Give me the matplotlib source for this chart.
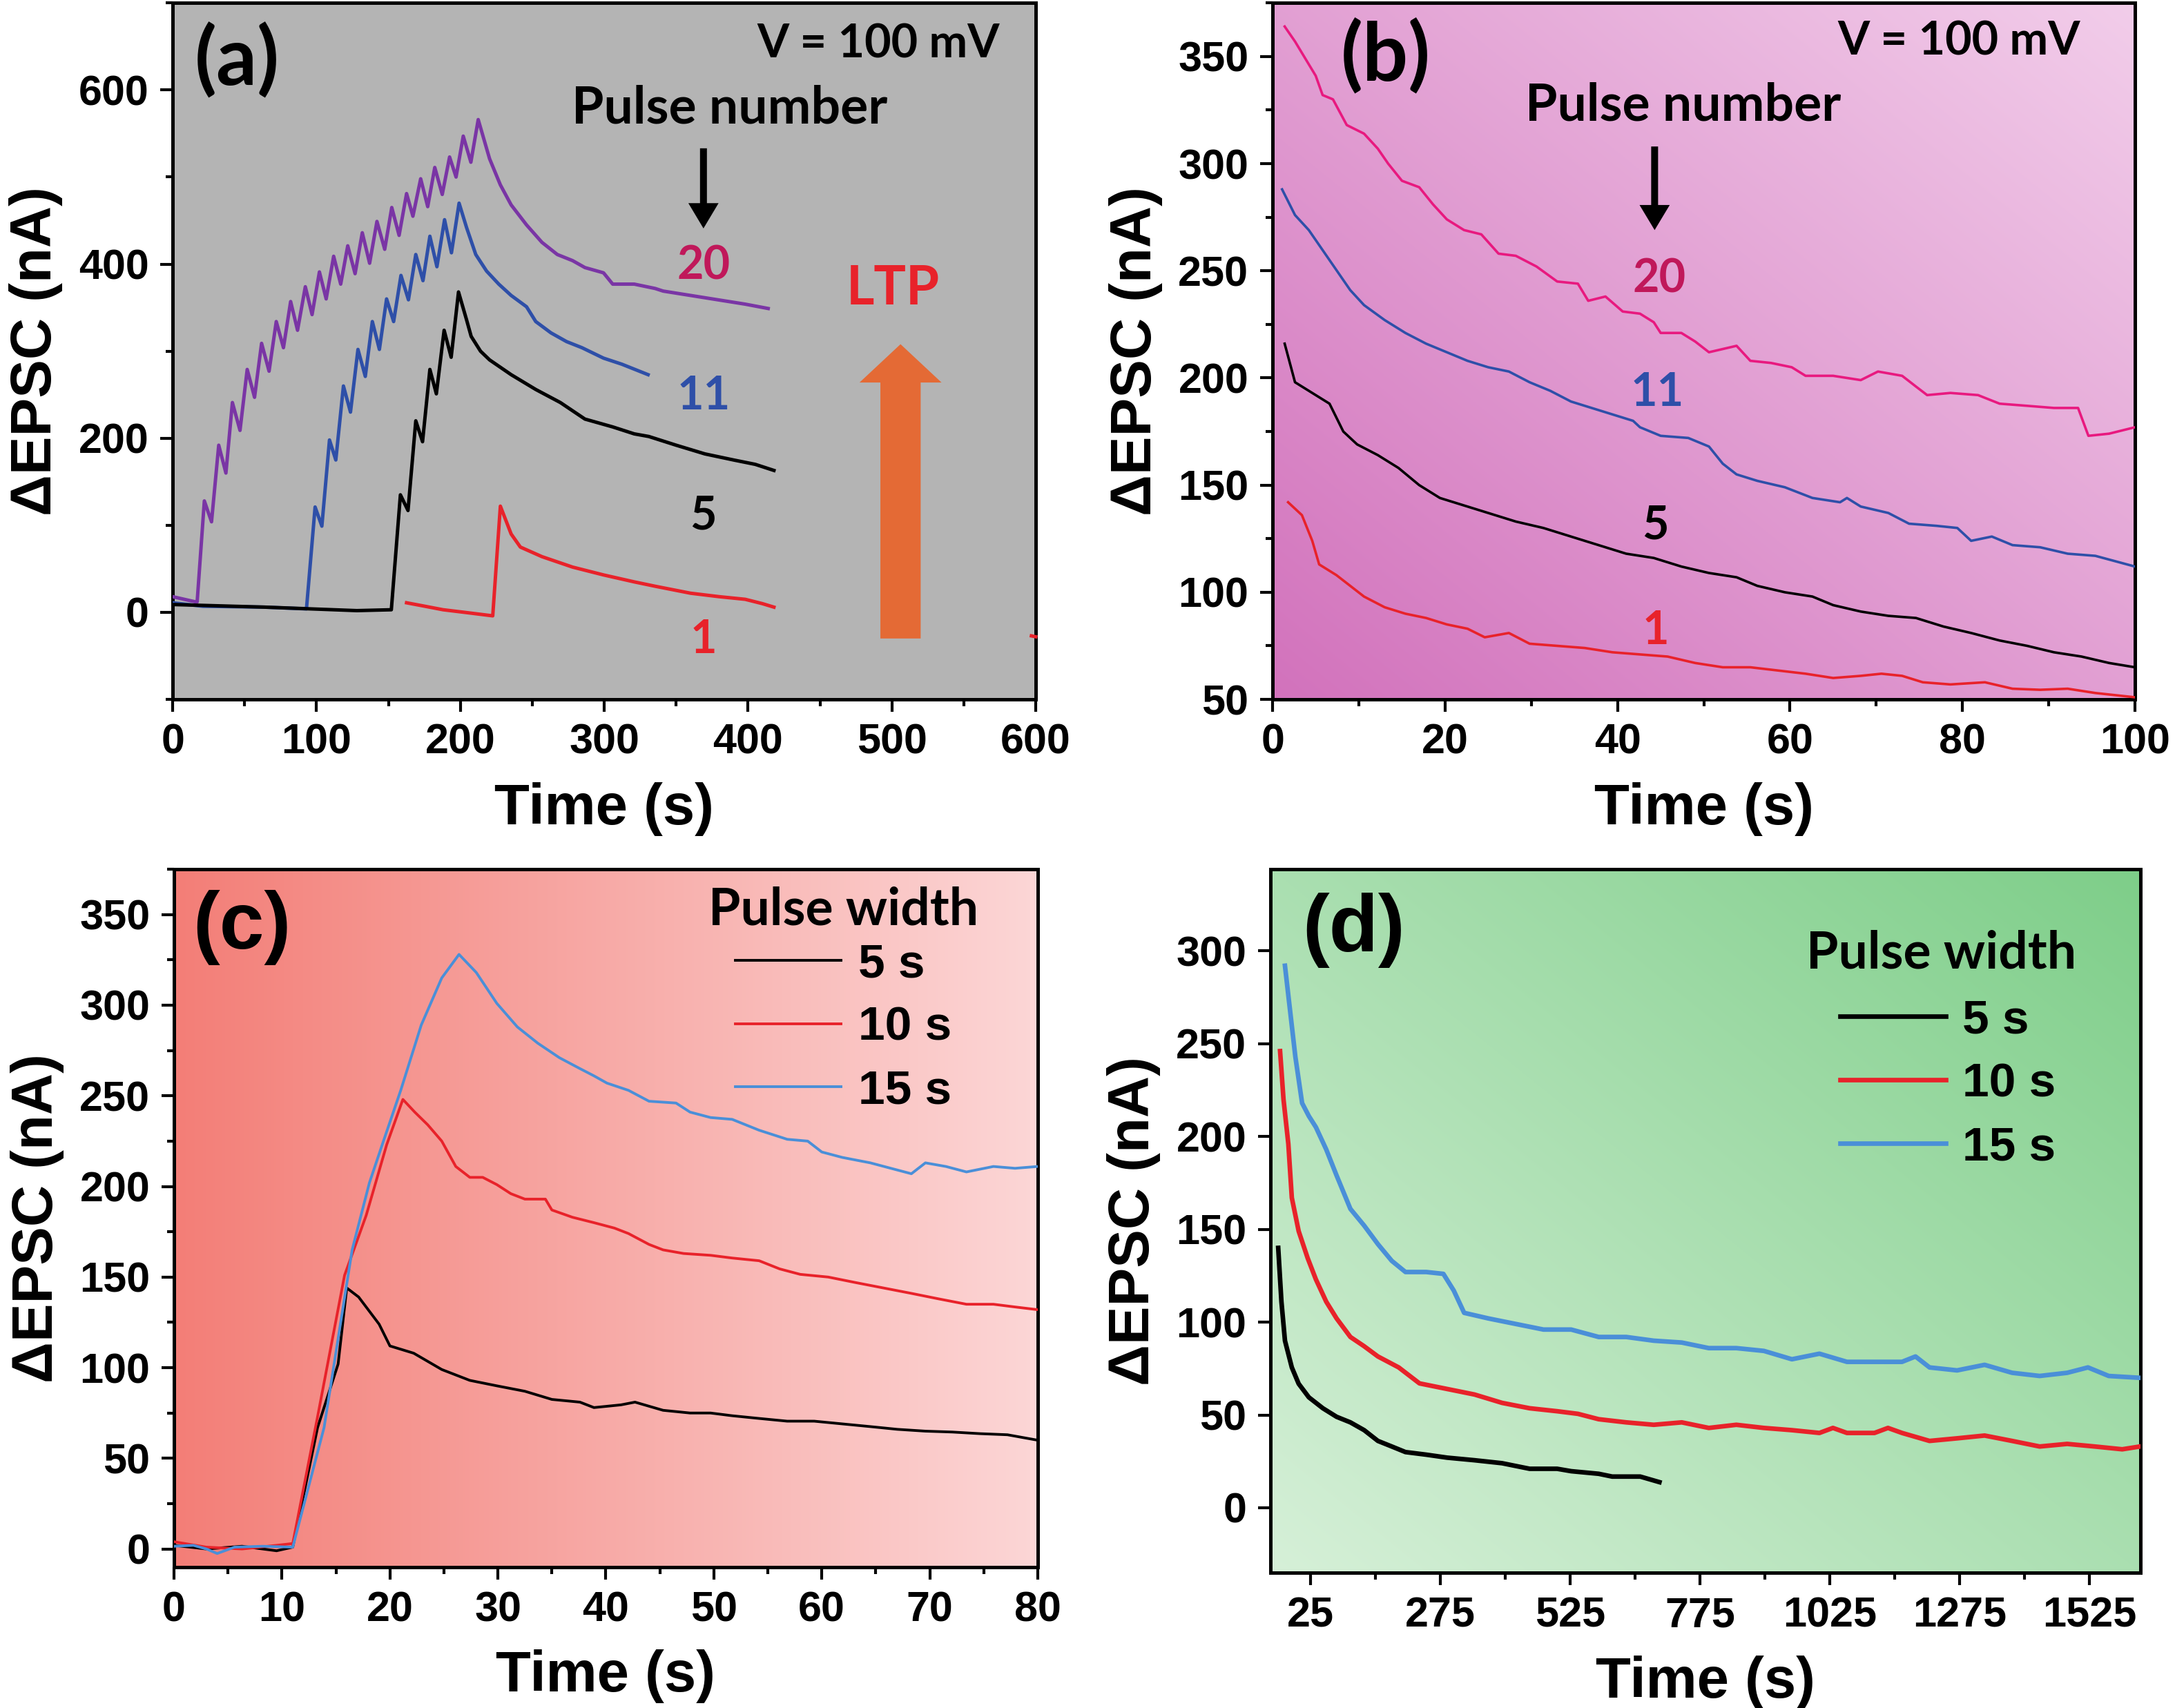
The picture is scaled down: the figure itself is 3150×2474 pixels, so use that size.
import numpy as np
import matplotlib
matplotlib.use("Agg")
import matplotlib.pyplot as plt
from matplotlib.ticker import MultipleLocator, FixedLocator
from matplotlib.colors import to_rgb

# ---------------- data: panel (a), pulse number ----------------
a20_t = [0, 16, 17, 22, 27, 32, 37, 41.5, 46.8, 51.8, 56.9, 61.8, 67, 72, 77, 82, 86.8, 92.2, 96.9,
         102, 106.7, 111.9, 116.8, 121.7, 126.8, 131.8, 136.9, 142, 147.4, 152.3, 157.4, 162.6, 167,
         172.4, 177.3, 182.2, 187.4, 192.5, 197, 202, 207.3, 212.4, 220.3, 227.8, 235.3, 246, 256.7,
         267.4, 278, 286.6, 299.5, 305.9, 320.9, 335.4, 341, 360, 379, 398, 414]
a20_v = [18, 12, 12, 128, 104, 192, 160, 241, 209, 279, 247, 309, 277, 334, 304, 357, 324, 374, 342,
         391, 360, 409, 377, 421, 389, 436, 401, 449, 417, 465, 433, 481, 455, 498, 466, 511, 480, 523,
         500, 547, 517, 566, 521, 491, 468, 445, 425, 411, 404, 396, 390, 377, 377, 372, 369, 364, 359,
         354, 349]

a11_t = [0, 21, 64, 93, 99, 103.7, 109, 113.4, 118.7, 123.6, 128.8, 133.9, 138.8, 143.7, 148.7,
         153.6, 158.7, 163.9, 169, 174, 178.8, 183.7, 189, 193.8, 199.1, 204.3, 210.7, 218.2, 226.7,
         235.3, 246, 252.4, 263, 273.8, 284.5, 299.5, 312.3, 330.5]
a11_v = [11, 7, 6, 4, 121, 99, 198, 175, 260, 230, 302, 271, 334, 302, 360, 334, 387, 359, 411,
         381, 432, 397, 451, 413, 470, 442, 411, 392, 377, 364, 351, 334, 321, 311, 304, 292, 285, 273]

a5_t = [0, 64, 96, 128, 152, 158.3, 163.6, 169, 173.7, 178.8, 183.3, 188.7, 193.6, 198.7, 204.3,
        207.5, 214, 220.3, 235.3, 252.4, 269.5, 286.6, 305.9, 320.9, 331, 350, 370, 390, 405, 418]
a5_v = [9, 6, 4, 2, 3, 135, 117, 220, 196, 279, 251, 324, 293, 368, 336, 317, 300, 290, 273, 256,
        241, 222, 213, 205, 202, 192, 182, 175, 170, 163]

a1_t = [162.6, 175.4, 188, 203, 222.5, 227.8, 235.3, 241.7, 256.7, 278, 299.5, 320.9, 335.4, 360,
        380, 398, 410, 418]
a1_v = [11, 7, 3, 0, -4, 122, 90, 75, 64, 52, 43, 35, 30, 22, 18, 15, 10, 6]
a1_tail_t = [597, 600]
a1_tail_v = [-27, -28]

# ---------------- data: panel (b), decay after pulses ----------------
b20_t = [1.4, 2.6, 5, 5.8, 7, 8.6, 10.6, 12.2, 13.4, 15, 17, 18.6, 20.2, 22.2, 24.2, 26.2, 28.2,
         30.6, 33, 35.4, 36.6, 38.6, 40.6, 42.6, 44.2, 45, 47.4, 49, 50.6, 53.8, 55.4, 57.8, 60.2,
         61.8, 65, 68.2, 70.2, 73, 74.6, 75.9, 78.6, 81.8, 84.3, 87.5, 90.6, 93.4, 94.6, 97, 100]
b20_v = [364, 357, 341, 332, 330, 318, 314, 307, 300, 292, 289, 281, 274, 269, 267, 258, 257, 252,
         245, 244, 236, 238, 231, 230, 226, 221, 221, 217, 212, 215, 208, 207, 205, 201, 201, 199,
         203, 201, 196, 192, 193, 192, 188, 187, 186, 186, 173, 174, 177]

b11_t = [1.1, 2.6, 4.2, 6.6, 9, 10.6, 13, 15.4, 17.8, 20.2, 22.6, 25, 27.4, 29.8, 32.2, 34.6, 36.2,
         39.4, 41.8, 42.6, 45, 48.2, 50.6, 52.2, 53.8, 56.2, 59.4, 62.6, 65.8, 66.6, 68.2, 71.4,
         73.8, 77, 79.4, 81, 83.4, 85.8, 89, 92.2, 95.4, 100]
b11_v = [288, 276, 269, 255, 241, 234, 227, 221, 216, 212, 208, 205, 203, 198, 194, 189, 187, 183,
         180, 177, 173, 172, 168, 160, 155, 152, 149, 144, 142, 144, 140, 137, 132, 131, 130, 124,
         126, 122, 121, 118, 117, 112]

b5_t = [1.4, 2.6, 4.2, 6.6, 8.2, 9.8, 12.2, 14.6, 17, 19.4, 21.8, 25, 28.2, 31.4, 34.6, 37.8, 41,
        44.2, 47.4, 50.6, 53.8, 56.2, 59.4, 62.6, 65, 68.2, 71.4, 74.6, 77.8, 81, 84.3, 87.5, 90.6,
        93.8, 97, 100]
b5_v = [216, 198, 194, 188, 175, 169, 164, 158, 150, 144, 141, 137, 133, 130, 126, 122, 118, 116,
        112, 109, 107, 103, 100, 98, 94, 91, 89, 88, 84, 81, 77.5, 75, 72, 70, 67, 65]

b1_t = [1.8, 3.4, 4.6, 5.4, 7.4, 9, 10.6, 13, 15.4, 17.8, 20.2, 22.6, 24.6, 27.4, 29.8, 33, 36.2,
        39.4, 42.6, 45.8, 49, 52.2, 55.4, 58.6, 61.8, 65, 68.2, 70.6, 73, 75.4, 78.6, 82.6, 85.8,
        89, 92.2, 95.4, 100]
b1_v = [142, 136, 124, 113, 108, 103, 98, 93, 90, 88, 85, 83, 79, 81, 76, 75, 74, 72, 71, 70, 67,
        65, 65, 63.5, 62, 60, 61, 62, 61, 58, 57, 58, 55, 54.5, 55, 53, 51]

# ---------------- data: panel (c), pulse width ----------------
c5_t = [0, 3, 6.3, 9.5, 11, 13.3, 15.2, 16, 17.1, 19, 20, 22.2, 24.8, 27.4, 29.9, 32.5, 35, 37.6,
        38.9, 41.4, 42.7, 45.3, 47.8, 49.7, 51.7, 54.2, 56.8, 59.3, 61.9, 64.5, 67, 69.6, 72.1,
        74.7, 77.2, 80]
c5_v = [2, 0, 1.5, -1, 1, 67, 102, 144, 139, 124, 112, 108, 99, 93, 90, 87, 82.5, 81, 78, 79.5, 81,
        76.5, 75, 75, 73.5, 72, 70.5, 70.5, 69, 67.5, 66, 65, 64.5, 63.6, 63, 60]

c10_t = [0, 3, 6.3, 9.5, 11, 13.3, 15.8, 17.8, 19.7, 21.2, 22.3, 23.5, 24.8, 26.1, 27.4, 28.6,
         29.9, 31.2, 32.5, 34.4, 35, 36.9, 38.9, 40.8, 42.1, 44, 45.3, 47.2, 49.7, 51.7, 54.2,
         56.1, 58, 60.6, 63.1, 65.7, 68.3, 70.8, 73.4, 75.9, 77.9, 80]
c10_v = [4, 1, 0, 2, 3, 73, 151, 184, 223, 248, 241, 234, 225, 211, 205, 205, 201, 196, 193, 193,
         187, 183, 180, 177, 174, 168, 165, 163, 162, 160.5, 159, 154.5, 151.5, 150, 147, 144,
         141, 138, 135, 135, 133.5, 132]

c15_t = [0, 1.8, 3, 4, 5.6, 8.2, 11, 13.9, 16.5, 18.1, 19.4, 21, 22.9, 24.8, 26.4, 28, 29.9, 31.8,
         33.7, 35.7, 37.6, 38.9, 40.1, 42.1, 44, 46.5, 47.8, 49.7, 51.7, 54.2, 56.8, 58.7, 60,
         61.9, 64.5, 66.4, 68.3, 69.6, 71.5, 73.4, 75.9, 77.9, 80]
c15_v = [1.5, 2, 0, -2.5, 1, 1.5, 1, 67, 165, 202, 225, 253, 289, 315, 328, 318, 301, 288, 279,
         271, 265, 261, 257, 253, 247, 246, 241, 238, 237, 231, 226, 225, 219, 216, 213, 210, 207,
         213, 211, 208, 211, 210, 211]

# ---------------- data: panel (d), long-term retention ----------------
d5_t = [-37, -30.8, -24, -10.8, 2.4, 22, 49, 75.4, 102, 128.5, 155, 181.7, 208, 248, 288, 341, 394,
        447, 500, 527, 580, 606, 660, 697]
d5_v = [140, 111, 90, 75.6, 66.8, 59.5, 53.6, 49, 46, 41.8, 36, 33, 30, 28.6, 27, 25.6, 24, 21, 21,
        19.7, 18.3, 16.8, 16.8, 13.8]

d10_t = [-33.4, -26.8, -17.5, -10.8, 2.4, 19.7, 35.6, 55.5, 75.4, 102, 128.5, 155, 195, 235, 288,
         341, 394, 447, 500, 540, 580, 633, 686, 740, 792, 845, 898, 952, 1005, 1031, 1058, 1111,
         1137, 1164, 1217, 1270, 1323, 1376, 1429, 1482, 1535, 1588, 1622]
d10_v = [246, 220, 196, 167, 149, 134.5, 123, 111, 102, 92, 87, 81.5, 75.6, 67, 64, 61, 56.5, 53.6,
         52, 50.6, 47.7, 46, 44.7, 46, 43, 44.7, 43, 41.8, 40.3, 43, 40.3, 40.3, 43, 40.3, 36,
         37.4, 38.9, 36, 33, 34.4, 33, 31.5, 33]

d15_t = [-24, -17.5, -4, 9, 22, 35.6, 55.5, 75.4, 102, 128.5, 155, 181.7, 208, 248, 281, 301, 321,
         367.5, 420.6, 473.7, 527, 580, 633, 686, 740, 792, 845, 898, 952, 1005, 1058, 1111, 1164,
         1190, 1217, 1270, 1323, 1376, 1429, 1482, 1522, 1562, 1622]
d15_v = [292, 276, 243, 218, 211, 205, 193, 179, 161, 152, 142, 133, 127, 127, 126, 117, 105, 102,
         99, 96, 96, 92, 92, 90, 89, 86, 86, 84.5, 80, 83, 78.6, 78.6, 78.6, 81.5, 75.6, 74, 77,
         72.7, 71, 72.7, 75.6, 71, 70]

width_labels = ["5 s", "10 s", "15 s"]

# ---------------- style ----------------
PURPLE = "#7a35a5"
BLUE = "#2e4fa8"
RED = "#e8222a"
CRIMSON = "#c0185a"
PINK = "#e8197f"
LBLUE = "#4a8fd8"
ORANGE = "#e46a35"

plt.rcParams["font.family"] = ["Liberation Sans", "DejaVu Sans"]
plt.rcParams["font.weight"] = "bold"
plt.rcParams["axes.linewidth"] = 1.8
CAL = ["Lato", "DejaVu Sans"]

TICK_FS = 22
LABEL_FS = 30


def gradient_bg(ax, c0, c1, mode):
    n = 200
    xx, yy = np.meshgrid(np.linspace(0, 1, n), np.linspace(0, 1, n))
    if mode == "h":
        f = xx
    else:
        f = (xx + yy) / 2
    c0 = np.array(to_rgb(c0))
    c1 = np.array(to_rgb(c1))
    img = c0[None, None, :] * (1 - f[..., None]) + c1[None, None, :] * f[..., None]
    ax.imshow(img, extent=(0, 1, 0, 1), transform=ax.transAxes, origin="lower",
              aspect="auto", zorder=0, interpolation="bilinear")


def style_axes(ax):
    ax.tick_params(which="both", direction="out", width=1.5, labelsize=TICK_FS, pad=6,
                   top=False, right=False)
    ax.tick_params(which="major", length=6.5)
    ax.tick_params(which="minor", length=3.6)
    for lab in ax.get_xticklabels() + ax.get_yticklabels():
        lab.set_fontweight("bold")
    ax.set_xlabel("Time (s)", fontsize=LABEL_FS, fontweight="bold", labelpad=10)
    ax.set_ylabel("ΔEPSC (nA)", fontsize=LABEL_FS, fontweight="bold", labelpad=8)


def width_legend(ax, anchor, title_xy):
    ax.text(title_xy[0], title_xy[1], "Pulse width", transform=ax.transAxes, fontsize=27,
            fontweight="bold", family=CAL, ha="center", va="center")
    ax.legend(loc="upper right", bbox_to_anchor=anchor, frameon=False,
              fontsize=25, handlelength=2.2, handletextpad=0.35,
              labelspacing=0.4, borderpad=0, borderaxespad=0)


fig = plt.figure(figsize=(15.75, 12.37), dpi=200)
ax_a = fig.add_axes([0.0794, 0.5905, 0.3968, 0.4078])
ax_b = fig.add_axes([0.5851, 0.5905, 0.3965, 0.4078])
ax_c = fig.add_axes([0.0800, 0.0825, 0.3971, 0.4086])
ax_d = fig.add_axes([0.5841, 0.0792, 0.4000, 0.4119])

# ---- (a) ----
ax = ax_a
ax.set_facecolor("#b4b4b4")
ax.plot(a20_t, a20_v, color=PURPLE, lw=1.8, zorder=3)
ax.plot(a11_t, a11_v, color=BLUE, lw=1.8, zorder=3)
ax.plot(a5_t, a5_v, color="black", lw=1.8, zorder=3)
ax.plot(a1_t, a1_v, color=RED, lw=1.8, zorder=3)
ax.plot(a1_tail_t, a1_tail_v, color=RED, lw=1.8, zorder=3, clip_on=False)
ax.set_xlim(0, 600)
ax.set_ylim(-100, 700)
ax.xaxis.set_major_locator(MultipleLocator(100))
ax.xaxis.set_minor_locator(MultipleLocator(50))
ax.yaxis.set_major_locator(MultipleLocator(200))
ax.yaxis.set_minor_locator(MultipleLocator(100))
style_axes(ax)
ax.text(45, 633, "(a)", fontsize=42, fontweight="bold", family=CAL, ha="center", va="center")
ax.text(575, 652, "V = 100 mV", fontsize=24, fontweight="bold", family=CAL, ha="right", va="center")
ax.text(387, 579, "Pulse number", fontsize=27, fontweight="bold", family=CAL, ha="center", va="center")
ax.arrow(369, 533, 0, -92, width=4.8, head_width=21, head_length=29,
         length_includes_head=True, color="black", lw=0, zorder=4)
ax.text(369, 398, "20", fontsize=24, fontweight="bold", family=CAL, color=CRIMSON, ha="center", va="center")
ax.text(369, 248, "11", fontsize=24, fontweight="bold", family=CAL, color=BLUE, ha="center", va="center")
ax.text(369, 111, "5", fontsize=24, fontweight="bold", family=CAL, color="black", ha="center", va="center")
ax.text(369, -32, "1", fontsize=24, fontweight="bold", family=CAL, color=RED, ha="center", va="center")
ax.text(501, 371, "LTP", fontsize=28, fontweight="bold", family=CAL, color=RED, ha="center", va="center")
ax.arrow(506, -30, 0, 338, width=28, head_width=57, head_length=44,
         length_includes_head=True, color=ORANGE, lw=0, zorder=2)

# ---- (b) ----
ax = ax_b
gradient_bg(ax, "#d272bc", "#f2cdea", "d")
ax.plot(b20_t, b20_v, color=PINK, lw=1.3, zorder=3)
ax.plot(b11_t, b11_v, color=BLUE, lw=1.3, zorder=3)
ax.plot(b5_t, b5_v, color="black", lw=1.3, zorder=3)
ax.plot(b1_t, b1_v, color=RED, lw=1.3, zorder=3)
ax.set_xlim(0, 100)
ax.set_ylim(50, 375)
ax.xaxis.set_major_locator(MultipleLocator(20))
ax.xaxis.set_minor_locator(MultipleLocator(10))
ax.yaxis.set_major_locator(MultipleLocator(50))
ax.yaxis.set_minor_locator(MultipleLocator(25))
style_axes(ax)
ax.text(13.1, 350, "(b)", fontsize=42, fontweight="bold", family=CAL, ha="center", va="center")
ax.text(93.7, 357, "V = 100 mV", fontsize=24, fontweight="bold", family=CAL, ha="right", va="center")
ax.text(47.6, 327, "Pulse number", fontsize=27, fontweight="bold", family=CAL, ha="center", va="center")
ax.arrow(44.3, 308, 0, -39, width=0.8, head_width=3.5, head_length=11.7,
         length_includes_head=True, color="black", lw=0, zorder=4)
ax.text(44.8, 246, "20", fontsize=24, fontweight="bold", family=CAL, color=CRIMSON, ha="center", va="center")
ax.text(44.6, 193, "11", fontsize=24, fontweight="bold", family=CAL, color=BLUE, ha="center", va="center")
ax.text(44.4, 131, "5", fontsize=24, fontweight="bold", family=CAL, color="black", ha="center", va="center")
ax.text(44.4, 82, "1", fontsize=24, fontweight="bold", family=CAL, color=RED, ha="center", va="center")

# ---- (c) ----
ax = ax_c
gradient_bg(ax, "#f37e77", "#fcd6d6", "h")
ax.plot(c5_t, c5_v, color="black", lw=1.4, zorder=3, label=width_labels[0])
ax.plot(c10_t, c10_v, color=RED, lw=1.4, zorder=3, label=width_labels[1])
ax.plot(c15_t, c15_v, color=LBLUE, lw=1.4, zorder=3, label=width_labels[2])
ax.set_xlim(0, 80)
ax.set_ylim(-10, 375)
ax.xaxis.set_major_locator(MultipleLocator(10))
ax.xaxis.set_minor_locator(MultipleLocator(5))
ax.yaxis.set_major_locator(MultipleLocator(50))
ax.yaxis.set_minor_locator(MultipleLocator(25))
style_axes(ax)
ax.text(6.3, 343, "(c)", fontsize=42, fontweight="bold", ha="center", va="center")
width_legend(ax, (0.9, 0.895), (0.775, 0.942))

# ---- (d) ----
ax = ax_d
gradient_bg(ax, "#d6f0d8", "#7ece89", "d")
ax.plot(d5_t, d5_v, color="black", lw=2.4, zorder=3, label=width_labels[0])
ax.plot(d10_t, d10_v, color=RED, lw=2.4, zorder=3, label=width_labels[1])
ax.plot(d15_t, d15_v, color=LBLUE, lw=2.4, zorder=3, label=width_labels[2])
ax.set_xlim(-52, 1623)
ax.set_ylim(-35, 344)
ax.xaxis.set_major_locator(FixedLocator([25, 275, 525, 775, 1025, 1275, 1525]))
ax.xaxis.set_minor_locator(FixedLocator([150, 400, 650, 900, 1150, 1400]))
ax.yaxis.set_major_locator(MultipleLocator(50))
style_axes(ax)
ax.text(108, 311, "(d)", fontsize=42, fontweight="bold", ha="center", va="center")
width_legend(ax, (0.903, 0.816), (0.771, 0.88))

fig.savefig("out.png", dpi=200)
